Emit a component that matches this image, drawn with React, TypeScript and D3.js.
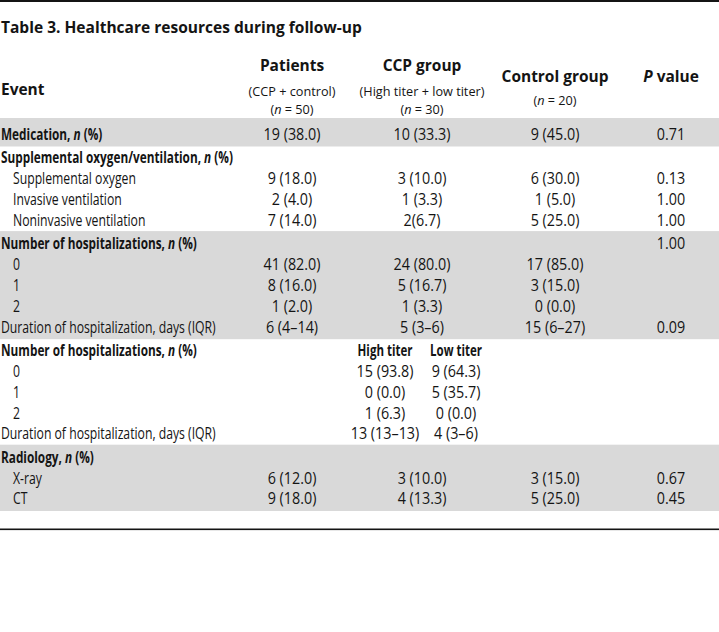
import React, { useEffect, useRef } from "react";
import * as d3 from "d3";

const W = 719;
const H = 632;

const titleText = "Table 3. Healthcare resources during follow-up";
const columnKeys = ["patients", "ccp", "control", "p"];
const columnHeads = ["Patients", "CCP group", "Control group", "*P* value"];
const columnSubs = [
  ["(CCP + control)", "(*n* = 50)"],
  ["(High titer + low titer)", "(*n* = 30)"],
  ["(*n* = 20)"],
  [],
];
const titerHeads = ["High titer", "Low titer"];

const rowLabels = [
  "Medication, *n* (%)",
  "Supplemental oxygen/ventilation, *n* (%)",
  "Supplemental oxygen",
  "Invasive ventilation",
  "Noninvasive ventilation",
  "Number of hospitalizations, *n* (%)",
  "0",
  "1",
  "2",
  "Duration of hospitalization, days (IQR)",
  "Number of hospitalizations, *n* (%)",
  "0",
  "1",
  "2",
  "Duration of hospitalization, days (IQR)",
  "Radiology, *n* (%)",
  "X-ray",
  "CT",
];
const rowBold = [1, 1, 0, 0, 0, 1, 0, 0, 0, 0, 1, 0, 0, 0, 0, 1, 0, 0];
const rowIndent = [0, 0, 1, 1, 1, 0, 1, 1, 1, 0, 0, 1, 1, 1, 0, 0, 1, 1];
const rowGroup = [0, 1, 1, 1, 1, 2, 2, 2, 2, 2, 3, 3, 3, 3, 3, 4, 4, 4];
const shadedGroups = [0, 2, 4];

const patientsCol = ["19 (38.0)", "", "9 (18.0)", "2 (4.0)", "7 (14.0)", "", "41 (82.0)", "8 (16.0)", "1 (2.0)", "6 (4–14)", "", "", "", "", "", "", "6 (12.0)", "9 (18.0)"];
const ccpCol = ["10 (33.3)", "", "3 (10.0)", "1 (3.3)", "2(6.7)", "", "24 (80.0)", "5 (16.7)", "1 (3.3)", "5 (3–6)", "", "", "", "", "", "", "3 (10.0)", "4 (13.3)"];
const controlCol = ["9 (45.0)", "", "6 (30.0)", "1 (5.0)", "5 (25.0)", "", "17 (85.0)", "3 (15.0)", "0 (0.0)", "15 (6–27)", "", "", "", "", "", "", "3 (15.0)", "5 (25.0)"];
const pCol = ["0.71", "", "0.13", "1.00", "1.00", "1.00", "", "", "", "0.09", "", "", "", "", "", "", "0.67", "0.45"];
const highTiterCol = ["", "", "", "", "", "", "", "", "", "", "", "15 (93.8)", "0 (0.0)", "1 (6.3)", "13 (13–13)", "", "", ""];
const lowTiterCol = ["", "", "", "", "", "", "", "", "", "", "", "9 (64.3)", "5 (35.7)", "0 (0.0)", "4 (3–6)", "", "", ""];

const FONT = "'Open Sans', 'Noto Sans', 'Liberation Sans', sans-serif";
const INK = "#141414";

// text styles: [sample string, font size, weight, target width of the sample]
const STYLES: Record<string, [string, number, number, number]> = {
  title: [titleText, 16.5, 700, 361],
  head: ["Control group", 16.5, 700, 107],
  sub: ["(CCP + control)", 13.5, 500, 87],
  boldLabel: ["Number of hospitalizations, *n* (%)", 15.5, 700, 196],
  titer: ["Low titer", 15.5, 700, 52],
  label: ["Duration of hospitalization, days (IQR)", 15.5, 500, 215],
  num: ["41 (82.0)", 15.5, 500, 57],
};

type Sel = d3.Selection<SVGGElement, unknown, null, undefined>;

function addRich(sel: d3.Selection<SVGTextElement, unknown, null, undefined>, s: string) {
  const parts = s.split("*");
  parts.forEach((p, i) => {
    if (!p) return;
    const t = sel.append("tspan").text(p);
    if (i % 2 === 1) t.attr("font-style", "italic");
  });
}

export default function App() {
  const ref = useRef<SVGSVGElement | null>(null);

  useEffect(() => {
    const svg = d3.select(ref.current as SVGSVGElement);
    svg.selectAll("*").remove();

    const x = d3.scaleOrdinal<string, number>().domain(columnKeys).range([292, 422, 555, 671]);
    const xTiter = d3.scaleOrdinal<string, number>().domain(["high", "low"]).range([385, 456]);
    const slot = (i: number) => i + rowGroup[i] * 0.11;
    const y = d3.scaleLinear().domain([0, 1]).range([140, 160.9]);

    svg.append("rect").attr("x", 0).attr("y", 0).attr("width", W).attr("height", H).attr("fill", "#fff");

    shadedGroups.forEach((g) => {
      const idx = rowGroup.map((gg, i) => (gg === g ? i : -1)).filter((i) => i >= 0);
      const first = idx[0];
      const last = idx[idx.length - 1];
      const top = g === 0 ? 118 : y(slot(first)) - 18;
      const bottom = y(slot(last)) + 6.5;
      svg.append("rect").attr("x", 0).attr("width", W).attr("y", top).attr("height", bottom - top).attr("fill", "#d9d9d9");
    });

    svg.append("rect").attr("x", 0).attr("y", 0).attr("width", W).attr("height", 2).attr("fill", INK);
    svg.append("rect").attr("x", 0).attr("y", 528.5).attr("width", W).attr("height", 1.6).attr("fill", INK);

    const g: Sel = svg.append("g").attr("font-family", FONT).attr("fill", INK);

    const measure = (s: string, size: number, weight: number) => {
      const t = g.append("text").attr("font-size", size).attr("font-weight", weight);
      addRich(t, s);
      const w = (t.node() as SVGTextElement).getComputedTextLength();
      t.remove();
      return w;
    };
    const sx: Record<string, number> = {};
    Object.keys(STYLES).forEach((k) => {
      const [s, size, weight, target] = STYLES[k];
      sx[k] = target / measure(s, size, weight);
    });

    const put = (px: number, py: number, s: string, style: string, anchor: string) => {
      const [, size, weight] = STYLES[style];
      const t = g
        .append("text")
        .attr("transform", `translate(${px},${py}) scale(${sx[style]},1)`)
        .attr("text-anchor", anchor)
        .attr("font-size", size)
        .attr("font-weight", weight);
      addRich(t, s);
    };

    put(1, 33, titleText, "title", "start");
    put(1, 95, "Event", "head", "start");

    const headY = [71, 71, 82, 82];
    const subY: number[][] = [[95.5, 113.5], [95.5, 113.5], [105], []];
    columnKeys.forEach((k, ci) => {
      put(x(k), headY[ci], columnHeads[ci], "head", "middle");
      columnSubs[ci].forEach((s, si) => put(x(k), subY[ci][si], s, "sub", "middle"));
    });

    const cols = [patientsCol, ccpCol, controlCol, pCol];
    rowLabels.forEach((lab, i) => {
      const yy = y(slot(i));
      put(rowIndent[i] ? 13 : 1, yy, lab, rowBold[i] ? "boldLabel" : "label", "start");
      cols.forEach((col, ci) => {
        if (col[i]) put(x(columnKeys[ci]), yy, col[i], "num", "middle");
      });
      if (i === 10) {
        titerHeads.forEach((h, hi) => put(xTiter(hi === 0 ? "high" : "low"), yy, h, "titer", "middle"));
      }
      if (highTiterCol[i]) put(xTiter("high"), yy, highTiterCol[i], "num", "middle");
      if (lowTiterCol[i]) put(xTiter("low"), yy, lowTiterCol[i], "num", "middle");
    });
  }, []);

  return (
    <svg ref={ref} width={W} height={H} style={{ position: "absolute", left: 0, top: 0, display: "block" }} />
  );
}
